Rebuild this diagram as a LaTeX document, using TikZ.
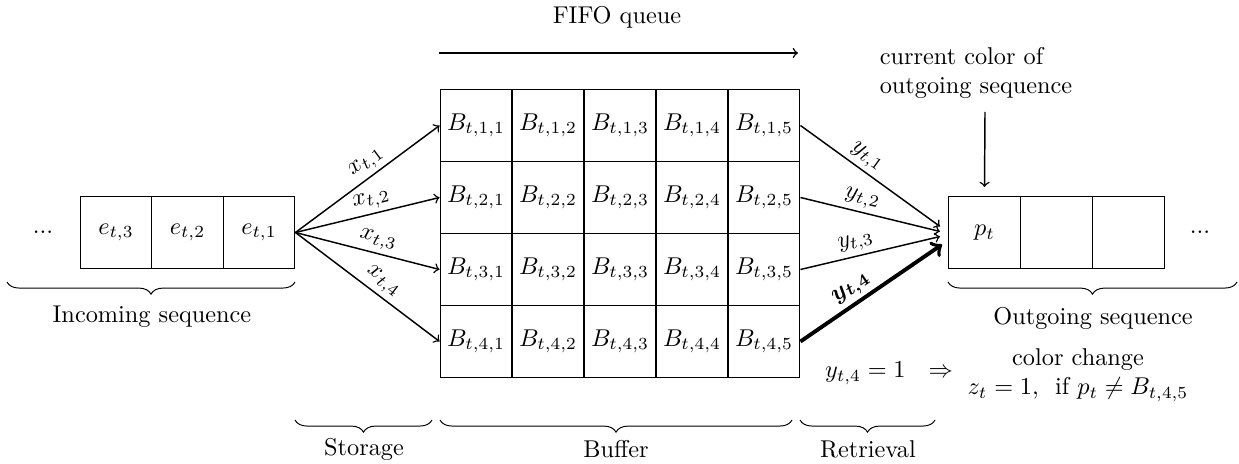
\documentclass[tikz,border=0pt]{standalone}
\usepackage{amsmath}
\usetikzlibrary{decorations.pathreplacing,calc}
\begin{document}
\begin{tikzpicture}[x=0.4115pt,y=-0.4115pt,
  cell/.style={draw, minimum width=29.6pt, minimum height=29.6pt, inner sep=0pt},
  arr/.style={->, semithick},
  brc/.style={decorate, decoration={brace,mirror,amplitude=5pt}},
  lbl/.style={sloped, above, midway, inner sep=1.5pt}]
\useasboundingbox (0,0) rectangle (1239,464);
% incoming
\node (dl) at (43,232) {...};
\node[cell] (e3) at (116,232.5) {$e_{t,3}$};
\node[cell] (e2) at (187.5,232.5) {$e_{t,2}$};
\node[cell] (e1) at (259,232.5) {$e_{t,1}$};
% buffer
\foreach \i in {1,...,4}
  \foreach \j in {1,...,5}
    \node[cell] (B\i\j) at ({476+72*(\j-1)}, {125.5+72*(\i-1)}) {$B_{t,\i,\j}$};
% outgoing
\node[cell] (p) at (984.5,232.5) {$p_t$};
\node[cell] (o2) at (1056.5,232.5) {};
\node[cell] (o3) at (1128.5,232.5) {};
\node (dr) at (1200,232) {...};
% storage arrows
\foreach \i in {1,...,4}
  \draw[arr] (e1.east) -- (B\i1.west) node[lbl, pos=0.55] {$x_{t,\i}$};
% retrieval arrows
\coordinate (t1) at ($(p.west)+(-8,-6)$);
\coordinate (t2) at ($(p.west)+(-8,-1)$);
\coordinate (t3) at ($(p.west)+(-8,4)$);
\coordinate (t4) at ($(p.west)+(-6,12)$);
\draw[arr] (B15.east) -- (t1) node[lbl, pos=0.42] {$y_{t,1}$};
\draw[arr] (B25.east) -- (t2) node[lbl, pos=0.42] {$y_{t,2}$};
\draw[arr] (B35.east) -- (t3) node[lbl, pos=0.42] {$y_{t,3}$};
\draw[arr, line width=1.6pt] (B45.east) -- (t4) node[lbl, pos=0.42] {$\boldsymbol{y_{t,4}}$};
% FIFO
\coordinate (f0) at (439,53);
\coordinate (f1) at (798,53);
\draw[arr] (f0) -- (f1);
\node (fifo) at (617,17) {FIFO queue};
% current color
\node[align=left] (cc) at (976,73) {current color of\\outgoing sequence};
\coordinate (ca) at (985,112);
\draw[arr] (ca) -- ([yshift=3.7pt]p.north);
% bottom text
\node (imp) at (889,373) {$y_{t,4}=1\ \ \Rightarrow$};
\node[align=center] (cz) at (1078,375) {color change\\$z_t=1,$\ \ if $p_t\neq B_{t,4,5}$};
% braces
\draw[brc] (7,282) -- (295,282);
\node (inl) at (152,317) {Incoming sequence};
\draw[brc] (948,282) -- (1237,282);
\node (outl) at (1093,318) {Outgoing sequence};
\draw[brc] (295,420) -- (432,420);
\node (stl) at (364,449) {Storage};
\draw[brc] (440,420) -- (792,420);
\node (bul) at (616,449) {Buffer};
\draw[brc] (800,420) -- (935,420);
\node (rel) at (868,449) {Retrieval};
\end{tikzpicture}
\end{document}
